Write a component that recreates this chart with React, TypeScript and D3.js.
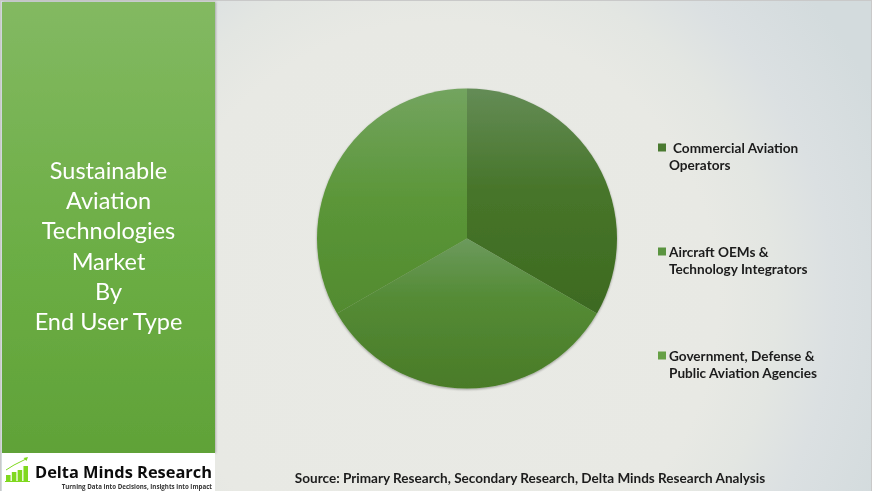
import React from "react";
import * as d3 from "d3";

const categories = ["Commercial Aviation Operators", "Aircraft OEMs & Technology Integrators", "Government, Defense & Public Aviation Agencies"];
const shares = [33.33, 33.33, 33.34];
const sliceStops = [
  [["0%", "#648c56"], ["45%", "#47752a"], ["100%", "#3d6a20"]],
  [["0%", "#6c9a5d"], ["40%", "#548b35"], ["100%", "#4a7b28"]],
  [["0%", "#73a45f"], ["50%", "#5b9638"], ["100%", "#528b2f"]],
];
const legendLines = [[" Commercial Aviation", "Operators"], ["Aircraft OEMs &", "Technology Integrators"], ["Government, Defense &", "Public Aviation Agencies"]];
const legendSwatches = ["#4a7a30", "#5a9440", "#66a045"];
const titleLines = ["Sustainable", "Aviation", "Technologies", "Market", "By", "End User Type"];
const logoBars = [6, 9, 11, 15];
const sourceText = "Source: Primary Research, Secondary Research, Delta Minds Research Analysis";

const W = 872, H = 491, cx = 467, cy = 238.5, R = 150;

export default function App() {
  const pie = d3.pie<number>().sort(null).value((d) => d);
  const arc = d3.arc<d3.PieArcDatum<number>>().innerRadius(0).outerRadius(R);
  const arcs = pie(shares);
  const titleY = d3.scaleLinear().domain([0, 5]).range([179, 330]);
  const legendY = d3.scaleLinear().domain([0, 2]).range([153, 361]);
  const logoX = d3.scaleBand<number>().domain(d3.range(logoBars.length)).range([6, 28]).paddingInner(0.22);
  return (
    <svg width={W} height={H} viewBox={`0 0 ${W} ${H}`} style={{ position: "absolute", left: 0, top: 0, display: "block" }}>
      <defs>
        <radialGradient id="bg" gradientUnits="userSpaceOnUse" cx={440} cy={300} r={480}>
          <stop offset="0%" stopColor="#e9eae5" />
          <stop offset="58%" stopColor="#e8e9e4" />
          <stop offset="70%" stopColor="#e3e6e2" />
          <stop offset="82%" stopColor="#dbe0e2" />
          <stop offset="100%" stopColor="#d3dbdd" />
        </radialGradient>
        <linearGradient id="panel" x1="0" y1="0" x2="0" y2="1">
          <stop offset="0%" stopColor="#83b962" />
          <stop offset="55%" stopColor="#6cae45" />
          <stop offset="100%" stopColor="#60a238" />
        </linearGradient>
        <filter id="soft" x="-5%" y="-5%" width="110%" height="110%">
          <feDropShadow dx="0" dy="1" stdDeviation="1" floodColor="#000" floodOpacity="0.35" />
        </filter>
        <filter id="panelShadow" x="-3%" y="-3%" width="106%" height="106%">
          <feDropShadow dx="1" dy="0" stdDeviation="1" floodColor="#000" floodOpacity="0.25" />
        </filter>
        {sliceStops.map((stops, i) => (
          <linearGradient key={i} id={`slice${i}`} x1="0" y1="0" x2="0" y2="1">
            {stops.map(([o, c]) => <stop key={o} offset={o} stopColor={c} />)}
          </linearGradient>
        ))}
      </defs>
      <rect width={W} height={H} fill="#c9c9c9" />
      <rect x={1} y={1} width={W - 2} height={H - 1} fill="url(#bg)" />
      <rect x={2} y={2} width={213} height={451} fill="url(#panel)" filter="url(#panelShadow)" />
      <rect x={2} y={453} width={213} height={38} fill="#ffffff" />

      <g filter="url(#soft)">
        {arcs.map((a, i) => (
          <path key={i} d={arc(a)!} transform={`translate(${cx},${cy})`} fill={`url(#slice${i})`}>
            <title>{categories[i]}</title>
          </path>
        ))}
      </g>

      <g fontFamily="Lato, 'Open Sans', sans-serif" fontSize={23.5} fill="#ffffff" textAnchor="middle">
        {titleLines.map((t, i) => <text key={t} x={108.5} y={titleY(i)}>{t}</text>)}
      </g>

      <g fontFamily="Lato, 'Open Sans', sans-serif" fontSize={13.6} fontWeight={700} fill="#1c1c1c">
        {legendLines.map((lines, i) => (
          <g key={i}>
            <rect x={658} y={legendY(i) - 9.5} width={8} height={8} fill={legendSwatches[i]} />
            {lines.map((l, j) => (
              <text key={l} x={i === 0 && j === 0 ? 673 : 669} y={legendY(i) + j * 17}>{l.trim()}</text>
            ))}
          </g>
        ))}
      </g>

      <text x={530} y={483} textAnchor="middle" fontFamily="Lato, 'Open Sans', sans-serif" fontSize={13.55} fontWeight={700} fill="#1c1c1c">{sourceText}</text>

      <g>
        {logoBars.map((h, i) => (
          <rect key={i} x={logoX(i)!} y={481 - h} width={logoX.bandwidth()} height={h} fill="#7fd81e" />
        ))}
        <rect x={5} y={481} width={25} height={1} fill="#7fd81e" />
        <path d="M6 470 L14 465 L20 462 L26 459" fill="none" stroke="#7fd81e" strokeWidth={1} />
        <path d="M28 457 L23.5 458 L26.5 461 Z" fill="#7fd81e" />
        <text x={35} y={477.8} fontFamily="'Open Sans', 'Noto Sans', sans-serif" fontWeight={700} fontSize={16.4} fill="#0c0c0c">Delta Minds Research</text>
        <text x={212} y={489} textAnchor="end" fontFamily="'Open Sans', 'Noto Sans', sans-serif" fontWeight={700} fontSize={6.2} fill="#333">Turning Data into Decisions, Insights into Impact</text>
      </g>
    </svg>
  );
}
